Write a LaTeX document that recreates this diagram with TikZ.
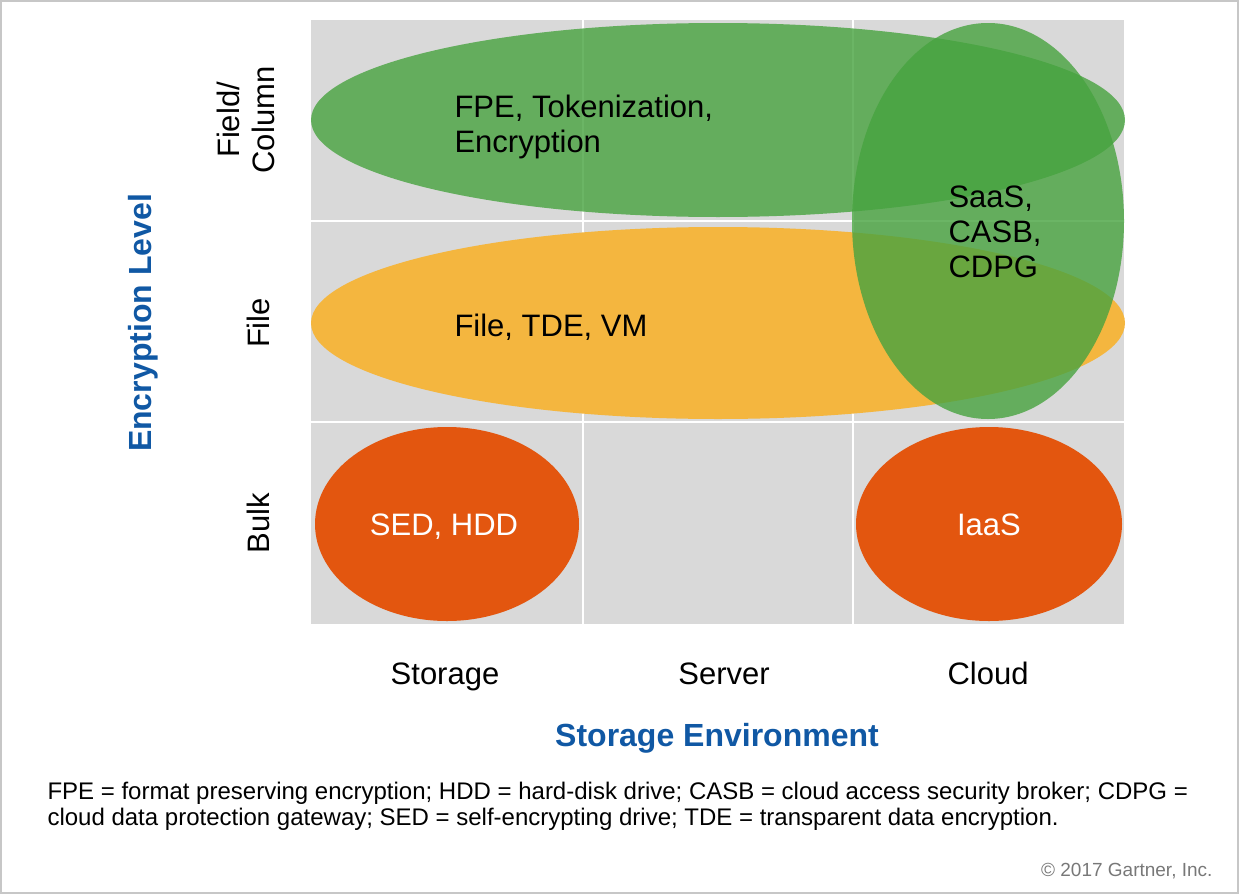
\documentclass[tikz,border=0pt]{standalone}
\usepackage{fontspec}
\setmainfont{Liberation Sans}
\usetikzlibrary{positioning}

\definecolor{gridgray}{RGB}{217,217,217}
\definecolor{fieldgreen}{RGB}{71,163,63}
\definecolor{fileorange}{RGB}{244,182,63}
\definecolor{bulkred}{RGB}{227,86,15}
\definecolor{axisblue}{RGB}{16,88,164}
\definecolor{notegray}{RGB}{120,120,120}

\begin{document}
\begin{tikzpicture}[x=1pt,y=-1pt,
        big/.style={font=\fontsize{31}{35}\selectfont,text=black,align=left},
        inbulk/.style={font=\fontsize{31}{35}\selectfont,text=white},
        level/.style={font=\fontsize{31}{35}\selectfont,rotate=90,align=center},
        axis/.style={font=\fontsize{32}{36}\selectfont\bfseries,text=axisblue},
        note/.style={font=\fontsize{24}{26}\selectfont,align=left,anchor=north west}]

        % frame and grid
        \useasboundingbox (0,0) rectangle (1239,894);
        \draw[black!22,line width=1.2] (1,1) rectangle (1238,893);
        \fill[gridgray] (311,20) rectangle (1124,624);
        \draw[white,line width=2.5] (583,20) -- (583,624)
                                    (853,20) -- (853,624)
                                    (311,221) -- (1124,221)
                                    (311,422) -- (1124,422);

        % ellipses
        \fill[fieldgreen,opacity=0.8] (718,120) ellipse [x radius=407,y radius=97];
        \fill[fileorange] (718,323) ellipse [x radius=407,y radius=96];
        \fill[fieldgreen,opacity=0.8] (988,221) ellipse [x radius=136,y radius=198];
        \fill[bulkred] (447,524) ellipse [x radius=132,y radius=97];
        \fill[bulkred] (989,524) ellipse [x radius=133,y radius=97];

        % texts in the ellipses
        \node[big,anchor=west] (fpe)  at (451,127) {FPE, Tokenization,\\Encryption};
        \node[big,anchor=west] (file) at (451,327) {File, TDE, VM};
        \node[big,anchor=west] (saas) at (945,232) {SaaS,\\CASB,\\CDPG};
        \node[inbulk] (sed)  at (444,527) {SED, HDD};
        \node[inbulk] (iaas) at (989,525) {IaaS};

        % level labels
        \node[level] (lfield) at (246,120) {Field/\\Column};
        \node[level] (lfile)  at (258,323) {File};
        \node[level] (lbulk)  at (258,523) {Bulk};
        \node[axis,rotate=90] (ylab) at (143,323) {Encryption Level};

        % environment labels
        \node[big,anchor=base] (storage) at (445,684) {Storage};
        \node[big,anchor=base] (server)  at (724,684) {Server};
        \node[big,anchor=base] (cloud)   at (988,684) {Cloud};
        \node[axis,anchor=base] (xlab) at (717,746) {Storage Environment};

        % notes
        \node[note] (abbr) at (44,779) {FPE = format preserving encryption; HDD = hard-disk drive; CASB = cloud access security broker; CDPG =\\cloud data protection gateway; SED = self-encrypting drive; TDE = transparent data encryption.};
        \node[font=\fontsize{19}{23}\selectfont,text=notegray,anchor=east] (copy) at (1216,871) {© 2017 Gartner, Inc.};
\end{tikzpicture}
\end{document}
